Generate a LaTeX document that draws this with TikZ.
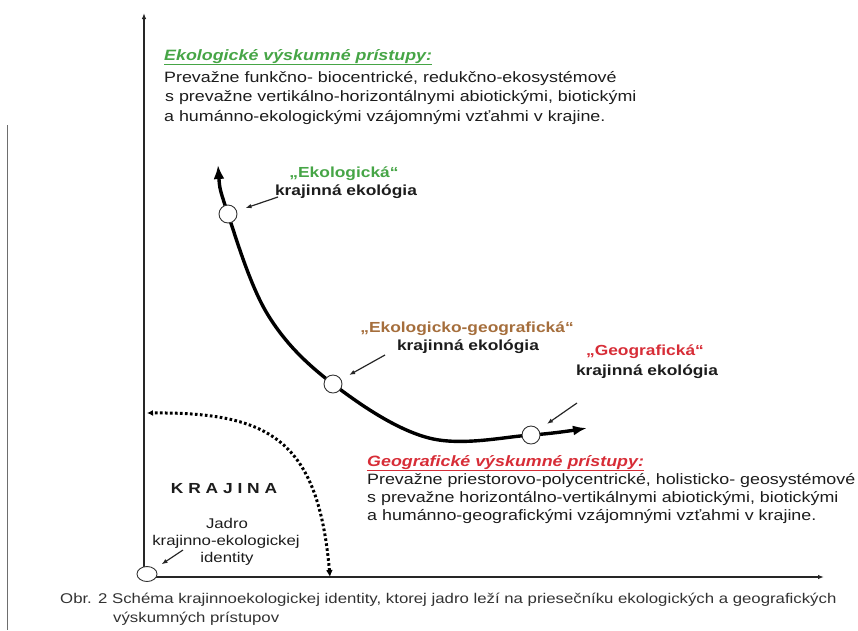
\documentclass[tikz,border=0pt]{standalone}
\usepackage{fontspec}
\setmainfont{Liberation Sans}[FakeStretch=1.19]
\usetikzlibrary{arrows.meta,shapes.geometric}
\definecolor{egreen}{RGB}{70,165,70}
\definecolor{ered}{RGB}{215,45,55}
\definecolor{ebrown}{RGB}{165,110,60}
\definecolor{txtgray}{RGB}{28,28,28}
\definecolor{capgray}{RGB}{50,50,50}
\definecolor{bordergray}{RGB}{110,110,110}
\begin{document}
\begin{tikzpicture}[x=1pt,y=-1pt,
  bodytext/.style={anchor=base west, inner sep=0pt, text=txtgray, font=\fontsize{15}{17}\selectfont},
  headtext/.style={anchor=base west, inner sep=0pt, font=\bfseries\itshape\fontsize{15}{17}\selectfont},
  lbltext/.style={anchor=base, inner sep=0pt, font=\bfseries\fontsize{14.6}{17}\selectfont},
  smalltext/.style={anchor=base, inner sep=0pt, text=txtgray, font=\fontsize{14.1}{16}\selectfont},
  captext/.style={anchor=base west, inner sep=0pt, text=capgray, font=\fontsize{14.1}{16}\selectfont},
  axisline/.style={line width=1.4pt, draw=black!85, -{Latex[length=6pt,width=4.5pt]}},
  maincurve/.style={line width=3.4pt, {Latex[length=14pt,width=11pt]}-{Latex[length=14pt,width=10pt]}},
  dotcurve/.style={line width=3pt, dash pattern=on 2.6pt off 2.4pt, {Latex[length=7pt,width=7pt]}-{Latex[length=6pt,width=6pt]}},
  pointer/.style={line width=1.2pt, draw=black!85, -{Latex[length=6pt,width=4.5pt]}},
  station/.style={circle, draw=black!80, line width=0.9pt, fill=white, minimum size=18pt, inner sep=0pt},
  corestation/.style={ellipse, draw=black!80, line width=0.9pt, fill=white, minimum width=20pt, minimum height=15pt, inner sep=0pt}
]
\useasboundingbox (0,0) rectangle (858,630);

% page border fragment
\draw[bordergray, line width=1.2pt] (7.5,125) -- (7.5,630);

% axes
\coordinate (orig) at (144,577);
\coordinate (ytop) at (144,13);
\coordinate (xend) at (824,577);
\draw[axisline] (orig) -- (ytop);
\draw[axisline] (orig) -- (xend);

% dotted curve
\coordinate (dstart) at (330,577);
\coordinate (dend) at (147,413);
\draw[dotcurve] (dstart) .. controls (318,440) and (270,412) .. (dend);

% main curve
\draw[maincurve] plot[smooth, tension=0.6] coordinates {(218,165) (228,214) (268,315) (333,384) (429,438) (531,435) (587,428)};

% stations
\node[station] (c1) at (228,214) {};
\node[station] (c2) at (333,384) {};
\node[station] (c3) at (531,435) {};
\node[corestation] (c0) at (147,574) {};

% pointers
\coordinate (p1) at (278,197);
\coordinate (p2) at (385,355);
\coordinate (p3) at (577,403);
\coordinate (p0) at (183,550);
\draw[pointer, shorten >=9pt] (p1) -- (c1);
\draw[pointer, shorten >=9pt] (p2) -- (c2);
\draw[pointer, shorten >=10pt] (p3) -- (c3);
\draw[pointer, shorten >=8pt] (p0) -- (c0);

% top text block
\node[headtext, text=egreen] (eh) at (164,60) {\underline{Ekologické výskumné prístupy:}};
\node[bodytext] (e1) at (164,82) {Prevažne funkčno- biocentrické, redukčno-ekosystémové};
\node[bodytext] (e2) at (165,101) {s prevažne vertikálno-horizontálnymi abiotickými, biotickými};
\node[bodytext] (e3) at (164,121) {a humánno-ekologickými vzájomnými vzťahmi v krajine.};

% labels
\node[lbltext, text=egreen] (l1a) at (344,177) {„Ekologická“};
\node[lbltext, text=txtgray] (l1b) at (346,195) {krajinná ekológia};
\node[lbltext, text=ebrown] (l2a) at (467,332) {„Ekologicko-geografická“};
\node[lbltext, text=txtgray] (l2b) at (468,350) {krajinná ekológia};
\node[lbltext, text=ered] (l3a) at (645,355) {„Geografická“};
\node[lbltext, text=txtgray] (l3b) at (647,375) {krajinná ekológia};

% bottom text block
\node[headtext, text=ered] (gh) at (367,466) {\underline{Geografické výskumné prístupy:}};
\node[bodytext] (g1) at (367,484) {Prevažne priestorovo-polycentrické, holisticko- geosystémové};
\node[bodytext] (g2) at (367,502) {s prevažne horizontálno-vertikálnymi abiotickými, biotickými};
\node[bodytext] (g3) at (367,520) {a humánno-geografickými vzájomnými vzťahmi v krajine.};

% landscape
\node[lbltext, text=txtgray] (kraj) at (224,493) {K R A J I N A};
\node[smalltext] (j1) at (227,528) {Jadro};
\node[smalltext] (j2) at (226,545) {krajinno-ekologickej};
\node[smalltext] (j3) at (227,562) {identity};

% caption
\node[captext] (cap1) at (60,603) {Obr. 2 Schéma krajinnoekologickej identity, ktorej jadro leží na priesečníku ekologických a geografických};
\node[captext] (cap2) at (113,622) {výskumných prístupov};
\end{tikzpicture}
\end{document}
